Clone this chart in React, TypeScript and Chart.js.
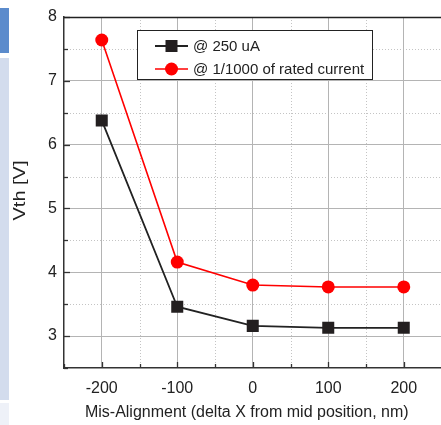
import React, { useEffect, useRef } from "react";
import { Chart, registerables } from "chart.js";

Chart.register(...registerables);

const xValues = [-200, -100, 0, 100, 200];
const series250uA = [6.38, 3.46, 3.16, 3.13, 3.13];
const seriesRated = [7.64, 4.16, 3.8, 3.77, 3.77];
const seriesLabels = ["@ 250 uA", "@ 1/1000 of rated current"];
const xTickValues = [-200, -100, 0, 100, 200];
const yTickValues = [3, 4, 5, 6, 7, 8];
const xTitle = "Mis-Alignment (delta X from mid position, nm)";
const yTitle = "Vth [V]";
const xRange = [-250, 250];
const yRange = [2.5, 8];

const FONT = "'Liberation Sans', Arial, sans-serif";

const decorPlugin = {
  id: "decor",
  beforeDraw(chart: any) {
    const { ctx, chartArea: a, scales } = chart;
    const xs = scales.x;
    const ys = scales.y;
    ctx.save();
    ctx.strokeStyle = "#c4c4c4";
    ctx.lineWidth = 1;
    ctx.setLineDash([1, 2]);
    for (let v = xRange[0] + 100; v < xRange[1]; v += 100) {
      const px = Math.round(xs.getPixelForValue(v)) + 0.5;
      ctx.beginPath();
      ctx.moveTo(px, a.top);
      ctx.lineTo(px, a.bottom);
      ctx.stroke();
    }
    for (let v = yRange[0] + 1; v < yRange[1]; v += 1) {
      const py = Math.round(ys.getPixelForValue(v)) + 0.5;
      ctx.beginPath();
      ctx.moveTo(a.left, py);
      ctx.lineTo(a.right, py);
      ctx.stroke();
    }
    ctx.restore();
  },
  afterDatasetsDraw(chart: any) {
    const { ctx, chartArea: a, scales } = chart;
    const xs = scales.x;
    const ys = scales.y;
    ctx.save();
    ctx.strokeStyle = "#333";
    ctx.lineWidth = 1.3;
    for (let v = yRange[0]; v <= yRange[1] + 1e-9; v += 0.5) {
      const py = Math.round(ys.getPixelForValue(v)) + 0.5;
      const len = Math.abs(v - Math.round(v)) < 1e-6 ? 6 : 4;
      ctx.beginPath();
      ctx.moveTo(a.left, py);
      ctx.lineTo(a.left + len, py);
      ctx.stroke();
    }
    for (let v = xRange[0]; v <= xRange[1]; v += 50) {
      const px = Math.round(xs.getPixelForValue(v)) + 0.5;
      const len = v % 100 === 0 ? 6 : 4;
      ctx.beginPath();
      ctx.moveTo(px, a.bottom);
      ctx.lineTo(px, a.bottom - len);
      ctx.stroke();
    }
    ctx.strokeStyle = "#222";
    ctx.lineWidth = 1.3;
    ctx.beginPath();
    ctx.moveTo(a.left, a.top + 0.5);
    ctx.lineTo(a.right + 4, a.top + 0.5);
    ctx.stroke();
    ctx.restore();
  },
  afterDraw(chart: any) {
    const { ctx, chartArea: a } = chart;
    ctx.save();
    // axis titles
    ctx.fillStyle = "#222";
    ctx.font = `16px ${FONT}`;
    ctx.textAlign = "center";
    ctx.textBaseline = "alphabetic";
    ctx.fillText(xTitle, (a.left + a.right) / 2 - 6, a.bottom + 49);
    ctx.save();
    ctx.translate(21, (a.top + a.bottom) / 2 - 2);
    ctx.rotate(-Math.PI / 2);
    ctx.scale(1.25, 1);
    ctx.textBaseline = "middle";
    ctx.fillText(yTitle, 0, 0);
    ctx.restore();

    // legend
    const bx = a.left + 73;
    const by = a.top + 13;
    const bw = 235;
    const bh = 49;
    ctx.fillStyle = "#fff";
    ctx.fillRect(bx, by, bw, bh);
    ctx.strokeStyle = "#222";
    ctx.lineWidth = 1;
    ctx.strokeRect(bx + 0.5, by + 0.5, bw, bh);
    const ds = chart.data.datasets;
    ds.forEach((d: any, i: number) => {
      const cy = by + 16 + i * 23;
      const x0 = bx + 18;
      const x1 = bx + 51;
      const cx = (x0 + x1) / 2;
      ctx.strokeStyle = d.borderColor;
      ctx.lineWidth = d.borderWidth;
      ctx.beginPath();
      ctx.moveTo(x0, cy);
      ctx.lineTo(x1, cy);
      ctx.stroke();
      ctx.fillStyle = d.pointBackgroundColor;
      if (d.pointStyle === "rect") {
        ctx.fillRect(cx - 6, cy - 6, 12, 12);
      } else {
        ctx.beginPath();
        ctx.arc(cx, cy, 6.5, 0, Math.PI * 2);
        ctx.fill();
      }
      ctx.fillStyle = "#222";
      ctx.font = `15px ${FONT}`;
      ctx.textBaseline = "middle";
      ctx.textAlign = "left";
      ctx.fillText(d.label, bx + 56, cy + 1);
    });
    ctx.restore();
  },
};

export default function App() {
  const ref = useRef<HTMLCanvasElement>(null);
  useEffect(() => {
    const canvas = ref.current!;
    const chart = new Chart(canvas, {
      type: "line",
      data: {
        datasets: [
          {
            label: seriesLabels[0],
            data: xValues.map((x, i) => ({ x, y: series250uA[i] })),
            borderColor: "#222",
            backgroundColor: "#222",
            pointBackgroundColor: "#231f20",
            pointBorderColor: "#231f20",
            borderWidth: 1.8,
            pointStyle: "rect",
            pointRadius: 8.5,
            pointBorderWidth: 0,
            tension: 0,
          },
          {
            label: seriesLabels[1],
            data: xValues.map((x, i) => ({ x, y: seriesRated[i] })),
            borderColor: "#ff0000",
            backgroundColor: "#ff0000",
            pointBackgroundColor: "#ff0000",
            pointBorderColor: "#ff0000",
            borderWidth: 1.6,
            pointStyle: "circle",
            pointRadius: 6.5,
            pointBorderWidth: 0,
            tension: 0,
          },
        ],
      },
      options: {
        responsive: false,
        animation: false,
        devicePixelRatio: 1,
        layout: { padding: { left: 0, top: 17, right: 6, bottom: 0 } },
        plugins: { legend: { display: false }, tooltip: { enabled: false } },
        scales: {
          x: {
            type: "linear",
            min: xRange[0],
            max: xRange[1],
            afterBuildTicks: (s: any) => {
              s.ticks = xTickValues.map((value) => ({ value }));
            },
            afterFit: (s: any) => {
              s.height = 57;
            },
            ticks: {
              autoSkip: false,
              maxRotation: 0,
              padding: 11,
              color: "#222",
              font: { family: FONT, size: 16 },
            },
            grid: { color: "#b4b4b4", lineWidth: 1, drawTicks: false },
            border: { display: true, color: "#333", width: 1.5 },
            title: { display: false },
          },
          y: {
            type: "linear",
            min: yRange[0],
            max: yRange[1],
            afterBuildTicks: (s: any) => {
              s.ticks = yTickValues.map((value) => ({ value }));
            },
            afterFit: (s: any) => {
              s.width = 64;
            },
            ticks: {
              padding: 7,
              color: "#222",
              font: { family: FONT, size: 16 },
            },
            grid: { color: "#b4b4b4", lineWidth: 1, drawTicks: false },
            border: { display: true, color: "#333", width: 1.5 },
            title: { display: false },
          },
        },
      },
      plugins: [decorPlugin],
    } as any);
    return () => chart.destroy();
  }, []);

  return (
    <div
      style={{
        position: "fixed",
        left: 0,
        top: 0,
        width: 441,
        height: 425,
        overflow: "hidden",
        background: "#fff",
      }}
    >
      <div style={{ position: "absolute", left: 0, top: 8, width: 9, height: 45, background: "#5b8bcc" }} />
      <div style={{ position: "absolute", left: 0, top: 58, width: 9, height: 342, background: "#d3dced" }} />
      <div style={{ position: "absolute", left: 0, top: 403, width: 9, height: 22, background: "#eef1f8" }} />
      <canvas
        ref={ref}
        width={450}
        height={425}
        style={{ position: "absolute", left: 0, top: 0, width: 450, height: 425 }}
      />
    </div>
  );
}
